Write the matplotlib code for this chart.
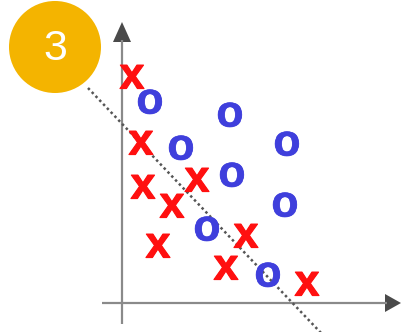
import matplotlib
matplotlib.use("Agg")
import matplotlib.pyplot as plt
from matplotlib.patches import Circle, Polygon
from matplotlib.transforms import offset_copy
import matplotlib.patheffects as pe

# Data (image pixel coordinates, y downward)
x_cls_x = [132, 141, 143, 197, 172, 158, 246, 226, 307]
x_cls_y = [77, 143, 187, 180, 206, 246, 236, 268, 284]
o_cls_x = [150, 230, 181, 287, 232, 285, 207, 268]
o_cls_y = [102, 115, 148, 144, 175, 205, 229, 275]
boundary_x = [88, 322]
boundary_y = [88, 334]
badge_label = "3"

W, H = 401, 332
fig = plt.figure(figsize=(W / 100, H / 100), dpi=100)
ax = fig.add_axes([0, 0, 1, 1])
ax.set_xlim(0, W)
ax.set_ylim(H, 0)
ax.axis("off")

axis_col = "#8a8a8a"
head_col = "#4a4a4a"
# axes
ax.plot([122, 122], [40, 324], color=axis_col, lw=1.6, solid_capstyle="butt")
ax.plot([102, 387], [303, 303], color=axis_col, lw=1.6, solid_capstyle="butt")
ax.add_patch(Polygon([[113, 42], [131, 42], [122, 22]], closed=True, color=head_col, lw=0))
ax.add_patch(Polygon([[385, 294], [385, 312], [401, 303]], closed=True, color=head_col, lw=0))

# boundary
ax.plot(boundary_x, boundary_y, color="#555555", lw=1.8, linestyle=(0, (1, 1.2)))

fs = 32
red = "#ff1010"
blue = "#3f3fdc"
for xx, yy in zip(x_cls_x, x_cls_y):
    tr = offset_copy(ax.transData, fig=fig, x=0, y=-0.26 * fs, units="points")
    ax.text(xx, yy, "x", transform=tr, ha="center", va="baseline", fontsize=fs,
            fontweight="bold", family="Liberation Sans", color=red,
            path_effects=[pe.withStroke(linewidth=0.8, foreground=red)])
for xx, yy in zip(o_cls_x, o_cls_y):
    tr = offset_copy(ax.transData, fig=fig, x=0, y=-0.26 * fs, units="points")
    ax.text(xx, yy, "o", transform=tr, ha="center", va="baseline", fontsize=fs,
            fontweight="bold", family="Liberation Sans", color=blue,
            path_effects=[pe.withStroke(linewidth=0.5, foreground=blue)])

# badge
ax.add_patch(Circle((55, 47), 46, color="#f4b400", lw=0))
ax.text(55, 49, badge_label, ha="center", va="center", fontsize=31,
        family="Liberation Sans", color="white")

fig.savefig("out.png", dpi=100)
